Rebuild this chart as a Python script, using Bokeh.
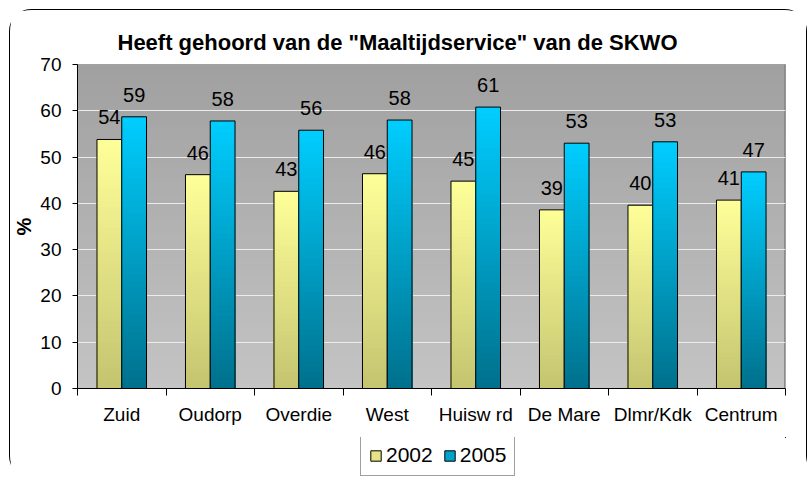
import numpy as np
from bokeh.plotting import figure
from bokeh.layouts import column
from bokeh.models import (Range1d, FixedTicker, ColumnDataSource, LabelSet,
                          Legend, LegendItem)
from bokeh.core.properties import value
from bokeh.embed import file_html
from bokeh.resources import INLINE

# ---------------- data ----------------
categories = ["Zuid", "Oudorp", "Overdie", "West", "Huisw rd", "De Mare", "Dlmr/Kdk", "Centrum"]
series_names = ["2002", "2005"]
values_2002 = [53.8, 46.2, 42.6, 46.4, 44.8, 38.6, 39.6, 40.7]
values_2005 = [58.7, 57.8, 55.8, 58.0, 60.8, 53.0, 53.3, 46.8]
y_ticks = [0, 10, 20, 30, 40, 50, 60, 70]
title_text = 'Heeft gehoord van de "Maaltijdservice" van de SKWO'
y_label = "%"

# ---------------- style ----------------
FONT = "Liberation Sans"
YELLOW_TOP, YELLOW_BOT = (255, 255, 153), (196, 196, 112)
CYAN_TOP, CYAN_BOT = (0, 206, 255), (0, 112, 140)
BG_TOP, BG_BOT = (160, 160, 160), (196, 196, 196)
BAR_W = 0.28
N_SEG = 48
W = 796
BORDER_L, BORDER_R = 63, 21


def lerp(c1, c2, t):
    return "#%02x%02x%02x" % tuple(int(round(a + (b - a) * t)) for a, b in zip(c1, c2))


n = len(categories)
centers = [i + 0.5 for i in range(n)]
boundaries = list(range(n + 1))
offsets = [-BAR_W / 2, BAR_W / 2]
grads = [(YELLOW_TOP, YELLOW_BOT), (CYAN_TOP, CYAN_BOT)]
series_values = [values_2002, values_2005]

p = figure(width=W, height=427,
           x_range=Range1d(0, n), y_range=Range1d(y_ticks[0], y_ticks[-1]),
           output_backend="svg", toolbar_location=None,
           min_border_left=BORDER_L, min_border_right=BORDER_R,
           min_border_top=54, min_border_bottom=49,
           background_fill_color="#b4b4b4", border_fill_color="white",
           outline_line_color=None, title=title_text)

# title
p.title.align = "left"
p.title.offset = 40
p.title.text_font = FONT
p.title.text_font_size = "22px"
p.title.text_font_style = "bold"
p.title.text_color = "black"
p.title.standoff = 19

# plot-area gradient background
ylo, yhi = p.y_range.start, p.y_range.end
M = 60
bg_bottoms = [ylo + (yhi - ylo) * k / M for k in range(M)]
bg_cols = [lerp(BG_BOT, BG_TOP, (k + 0.5) / M) for k in range(M)]
p.quad(left=0, right=n, bottom=bg_bottoms, top=yhi, fill_color=bg_cols,
       line_color=None, level="image")
# darker right edge of the plot area
p.segment(x0=n, y0=ylo, x1=n, y1=yhi, line_color="#8a8a8a", line_width=3, level="image")


def gradient_data(xs, vals, c_bot, c_top):
    xx, tt, cc = [], [], []
    for k in reversed(range(N_SEG)):
        col = lerp(c_bot, c_top, (k + 0.5) / N_SEG)
        for x, v in zip(xs, vals):
            xx.append(x)
            tt.append(v * (k + 1) / N_SEG)
            cc.append(col)
    return dict(x=xx, top=tt, color=cc)


label_x, label_y, label_t = [], [], []
for name, vals, off, (ctop, cbot) in zip(series_names, series_values, offsets, grads):
    xs = [c + off for c in centers]
    src = ColumnDataSource(gradient_data(xs, vals, cbot, ctop))
    p.vbar(x="x", top="top", bottom=0, width=BAR_W, fill_color="color",
           line_color=None, source=src)
    p.vbar(x=xs, top=vals, bottom=0, width=BAR_W, fill_color=None,
           line_color="black", line_width=1)
    label_x += xs
    label_y += vals
    label_t += ["%.0f" % v for v in vals]

lbl_src = ColumnDataSource(dict(x=label_x, y=label_y, t=label_t))
labels = LabelSet(x="x", y="y", text="t", source=lbl_src, text_align="center",
                  text_baseline="alphabetic", y_offset=15,
                  text_font=value(FONT), text_font_size=value("20px"),
                  text_color="black")
p.add_layout(labels)

# grid
p.xgrid.visible = False
p.ygrid.grid_line_color = "#ececec"
p.ygrid.grid_line_width = 1

# y axis
yax = p.yaxis[0]
yax.ticker = FixedTicker(ticks=y_ticks)
yax.major_tick_out = 5
yax.major_tick_in = 0
yax.minor_tick_out = 0
yax.minor_tick_in = 0
yax.major_label_standoff = 11
yax.major_label_text_font = FONT
yax.major_label_text_font_size = "19px"
yax.major_label_text_color = "black"
yax.axis_line_color = "black"
yax.major_tick_line_color = "black"
yax.axis_label = y_label
yax.axis_label_text_font = FONT
yax.axis_label_text_font_size = "20px"
yax.axis_label_text_font_style = "bold"
yax.axis_label_text_color = "black"
yax.axis_label_standoff = 2

# x axis: labels at centers, ticks at category boundaries
xax = p.xaxis[0]
xax.ticker = FixedTicker(ticks=centers, minor_ticks=boundaries)
xax.major_label_overrides = {c: name for c, name in zip(centers, categories)}
xax.major_tick_line_color = None
xax.major_tick_out = 0
xax.major_tick_in = 0
xax.minor_tick_out = 7
xax.minor_tick_in = 0
xax.minor_tick_line_color = "black"
xax.major_label_standoff = 8
xax.major_label_text_font = FONT
xax.major_label_text_font_size = "19px"
xax.major_label_text_color = "black"
xax.axis_line_color = "black"

# ---------------- legend strip below the chart ----------------
# its ranges keep the (legend-only) bar renderers completely out of view
leg = figure(width=W, height=40, x_range=Range1d(-50, -40), y_range=Range1d(-500, -499),
             x_axis_type=None, y_axis_type=None,
             output_backend="svg", toolbar_location=None,
             min_border_left=BORDER_L, min_border_right=BORDER_R,
             min_border_top=0, min_border_bottom=0,
             background_fill_color="white", border_fill_color="white",
             outline_line_color=None)
legend_items = []
for name, vals, off, (ctop, cbot) in zip(series_names, series_values, offsets, grads):
    xs = [c + off for c in centers]
    r = leg.vbar(x=xs, top=vals, bottom=0, width=BAR_W,
                 fill_color=lerp(cbot, ctop, 0.55), line_color="black", line_width=1)
    legend_items.append(LegendItem(label=name, renderers=[r]))

legend = Legend(items=legend_items, orientation="horizontal", location=(283, 1),
                glyph_width=13, glyph_height=13, label_standoff=4, spacing=10,
                padding=8, margin=0, border_line_color="#404040", border_line_width=1,
                background_fill_color="white", background_fill_alpha=1,
                label_text_font=FONT, label_text_font_size="21px",
                label_text_color="black")
leg.add_layout(legend, "center")

layout = column(p, leg, spacing=0,
                styles={"border": "1px solid #000000", "border-radius": "22px",
                        "margin": "9px 0 0 9px"})

open("out.html", "w").write(file_html(layout, INLINE))
